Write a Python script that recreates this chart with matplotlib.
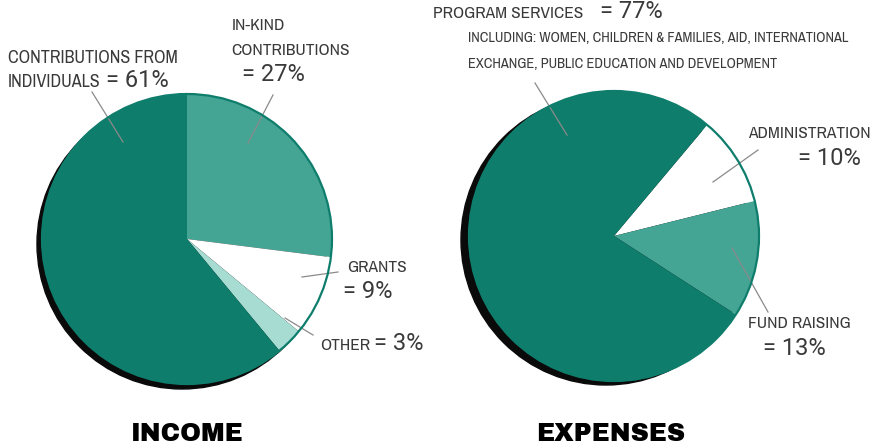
import matplotlib.pyplot as plt
from matplotlib.patches import Circle

# data
income_labels = ['In-kind contributions', 'Grants', 'Other', 'Contributions from individuals']
income_values = [27, 9, 3, 61]
expense_labels = ['Administration', 'Fund raising', 'Program services']
expense_values = [10, 13, 77]

DARK = '#0f7d6c'
MID = '#45a595'
PALE = '#a6dcd2'
TXT = '#3a3a3a'
W, H = 871, 446

fig = plt.figure(figsize=(8.71, 4.46), dpi=100)
ax = fig.add_axes([0, 0, 1, 1])

NARROW = ['Archivo Narrow', 'Roboto', 'DejaVu Sans']
NUM = ['Roboto', 'DejaVu Sans']
HEAVY = ['Archivo Black', 'DejaVu Sans']


def Y(y):
    # image rows go down, axes go up
    return H - y


def txt(x, y, s, size=12.5, ha='left', **kw):
    kw.setdefault('family', NARROW)
    kw.setdefault('color', TXT)
    ax.text(x, Y(y), s, fontsize=size, ha=ha, va='baseline', **kw)


def num(x, y, s, ha='left'):
    txt(x, y, s, size=17, ha=ha, family=NUM, fontweight='normal')


def leader(x0, y0, x1, y1):
    ax.plot([x0, x1], [Y(y0), Y(y1)], color='#8a8a8a', lw=0.9)


def draw_pie(values, colors, cx, cy, r, start, shadow):
    ax.add_patch(Circle((cx + shadow[0], Y(cy) - shadow[1]), r, color='#0a0a0a', zorder=1))
    ax.pie(values, colors=colors, center=(cx, Y(cy)), radius=r, startangle=start,
           counterclock=False, frame=True, wedgeprops=dict(linewidth=0, zorder=2))
    ax.add_patch(Circle((cx, Y(cy)), r, fill=False, ec=DARK, lw=1.6, zorder=3))


# income pie
draw_pie(income_values, [MID, 'white', PALE, DARK], 187, 239, 145, 90, (-5, 5))
# expenses pie
draw_pie(expense_values, ['white', MID, DARK], 614, 236, 145, 50, (-8, 4))

ax.set_xlim(0, W)
ax.set_ylim(0, H)
ax.set_aspect('equal')
ax.axis('off')

# income labels
txt(8, 63, 'CONTRIBUTIONS FROM', size=13)
txt(8, 87, 'INDIVIDUALS', size=13)
num(106, 87, '= 61%')
leader(92, 92, 123, 142)

txt(232, 30, 'IN-KIND')
txt(231, 55, 'CONTRIBUTIONS')
num(242, 81, '= 27%')
leader(273, 95, 248, 143)

txt(347, 272, 'GRANTS')
num(343, 298, '= 9%')
leader(338, 272, 302, 277)

txt(320, 350, 'OTHER')
num(374, 350, '= 3%')
leader(285, 318, 313, 335)

# expenses labels
txt(433, 18, 'PROGRAM SERVICES', size=12.5)
num(600, 18, '= 77%')
txt(468, 42, 'INCLUDING: WOMEN, CHILDREN & FAMILIES, AID, INTERNATIONAL', size=10.4)
txt(468, 68, 'EXCHANGE, PUBLIC EDUCATION AND DEVELOPMENT', size=10.4)
leader(535, 83, 567, 135)

txt(748, 138, 'ADMINISTRATION')
num(861, 165, '= 10%', ha='right')
leader(758, 150, 713, 182)

txt(748, 328, 'FUND RAISING')
num(763, 355, '= 13%')
leader(732, 248, 768, 312)

# titles
ax.text(187, Y(441), 'INCOME', fontsize=18, ha='center', va='baseline',
        family=HEAVY, color='black')
ax.text(611, Y(441), 'EXPENSES', fontsize=18, ha='center', va='baseline',
        family=HEAVY, color='black')

fig.savefig('out.png', dpi=100)
